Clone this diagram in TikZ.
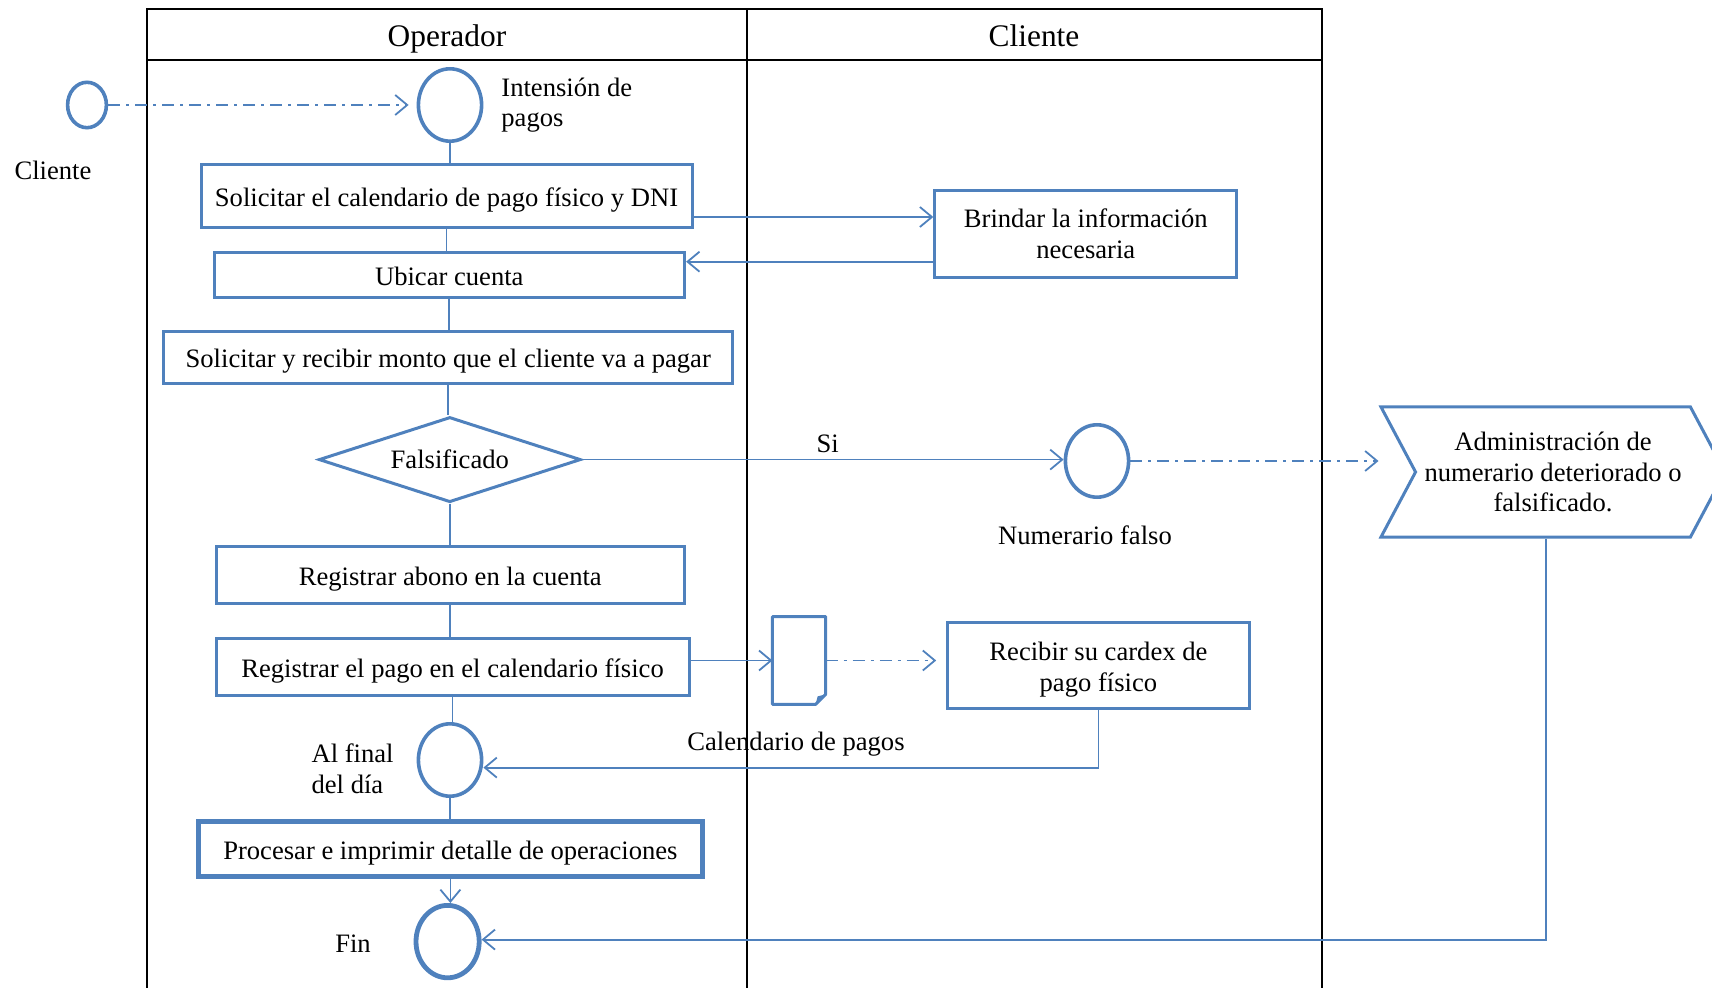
\documentclass[tikz,border=0pt]{standalone}
\usepackage{fontspec}
\setmainfont{Liberation Serif}
\usetikzlibrary{arrows.meta,positioning,shapes.geometric,shapes.symbols}
\definecolor{ofblue}{RGB}{79,129,189}

\begin{document}
\begin{tikzpicture}[x=0.5pt,y=-0.5pt,
  txt/.style={font=\fontsize{13.3}{15.3}\selectfont, inner sep=0pt},
  act/.style={draw=ofblue, line width=1.5pt, fill=white, align=center, font=\fontsize{13.3}{15.3}\selectfont, inner sep=1pt},
  oneline/.style={text height=13.4pt, text depth=3.3pt},
  evt/.style={ellipse, draw=ofblue, line width=1.8pt, minimum width=31.6pt, minimum height=36.2pt, inner sep=0pt},
  link/.style={ofblue, line width=0.9pt},
  flow/.style={link, -{Straight Barb[length=6pt,width=10pt]}},
  msg/.style={flow, dash pattern=on 6pt off 3pt on 1.5pt off 3pt}]
\useasboundingbox (0,0) rectangle (1712,988);
% Swimlanes
\draw[black, line width=1.2pt] (147,988) -- (147,9) -- (1322,9) -- (1322,988);
\draw[black, line width=1.2pt] (147,60) -- (1322,60);
\draw[black, line width=1.2pt] (747,9) -- (747,988);
\node[font=\fontsize{15.7}{18}\selectfont, anchor=base] (lop) at (447,46.5) {Operador};
\node[font=\fontsize{15.7}{18}\selectfont, anchor=base] (lcl) at (1034,46.5) {Cliente};
% Outside actor
\node[evt, minimum width=19.4pt, minimum height=22.7pt] (cli) at (87,105) {};
\node[txt] (lcli) at (53,170) {Cliente};
% Operador lane
\node[evt] (ini) at (450,105) {};
\node[txt, anchor=west, align=left] (lini) at (501,105) {Intensión de\\pagos};
\node[act, oneline, minimum width=245.5pt, minimum height=31.5pt] (sol) at (446.5,196.5) {Solicitar el calendario de pago físico y DNI};
\node[act, oneline, minimum width=235.3pt, minimum height=22.9pt] (ubi) at (449.3,275) {Ubicar cuenta};
\node[act, oneline, minimum width=284.4pt, minimum height=25.6pt] (mon) at (448.2,357.6) {Solicitar y recibir monto que el cliente va a pagar};
\node[diamond, draw=ofblue, line width=1.5pt, fill=white, aspect=3, inner sep=0pt, minimum width=131pt, minimum height=42.6pt, font=\fontsize{13.3}{15.3}\selectfont] (fal) at (449.8,459.6) {Falsificado};
\node[act, oneline, minimum width=234.3pt, minimum height=28.9pt] (abo) at (450.3,575) {Registrar abono en la cuenta};
\node[act, oneline, minimum width=236.5pt, minimum height=28.4pt] (pag) at (452.5,667) {Registrar el pago en el calendario físico};
\node[evt] (alf) at (450,760) {};
\node[txt, anchor=east, align=left] (lalf) at (394,769) {Al final\\del día};
\node[act, oneline, line width=2.5pt, minimum width=251.7pt, minimum height=27.9pt] (pro) at (450.4,849) {Procesar e imprimir detalle de operaciones};
\node[evt, line width=2.4pt] (fin) at (447.6,941.6) {};
\node[txt] (lfin) at (353,944) {Fin};
% Cliente lane
\node[act, minimum width=151pt, minimum height=43.6pt] (bri) at (1085.8,233.7) {Brindar la información\\necesaria};
\node[evt] (num) at (1097,461) {};
\node[txt] (lnum) at (1085,535) {Numerario falso};
\node[minimum width=26.2pt, minimum height=43.5pt, inner sep=0pt] (doc) at (799,660.5) {};
\draw[ofblue, line width=1.5pt, line join=round] (doc.north west) -- (doc.north east) -- ([yshift=5pt]doc.south east)
  -- ([xshift=-5pt]doc.south east) -- (doc.south west) -- cycle;
\fill[ofblue] ([yshift=5pt]doc.south east) -- ([xshift=-5pt]doc.south east) -- ([xshift=-4pt,yshift=4pt]doc.south east) -- cycle;
\node[txt] (ldoc) at (796,744) {Calendario de pagos};
\node[act, minimum width=150.7pt, minimum height=43.2pt] (rec) at (1098.4,665.5) {\rule{0pt}{13.1pt}Recibir su cardex de\\pago físico};
% Outside process
\node[signal, signal from=west, signal to=east, signal pointer angle=124, draw=ofblue, line width=1.5pt,
  minimum width=172pt, minimum height=65pt, inner sep=0pt, align=center, font=\fontsize{13.3}{15.3}\selectfont] (adm) at (1553,472)
  {Administración de\\numerario deteriorado o\\falsificado.};
% Connectors
\draw[msg, shorten >=4pt] (cli.east) -- (ini.west);
\foreach \a/\b in {ini/sol, sol/ubi, ubi/mon, mon/fal, fal/abo, abo/pag, pag/alf, alf/pro}
  \draw[link] (\a.south) -- (\a.south |- \b.north);
\draw[flow] (pro.south) -- (pro.south |- fin.north);
\draw[flow] ([yshift=-10.25pt]sol.east) -- ([yshift=-10.25pt]sol.east -| bri.west);
\draw[flow] ([yshift=-14pt]bri.west) -- ([yshift=-14pt]bri.west -| ubi.east);
\draw[flow] (fal.east) -- node[txt, text=black, above=3pt, pos=0.51] {Si} (fal.east -| num.west);
\draw[msg] (num.east) -- (num.east -| adm.north west);
\draw[flow] (pag.east |- doc.west) -- (doc.west);
\draw[msg, shorten >=5pt] (doc.east) -- (doc.east -| rec.west);
\draw[flow] (rec.south) |- ([yshift=-3.8pt]alf.east);
\draw[flow] ([xshift=-3.5pt]adm.south) |- ([yshift=1pt]fin.east);
\end{tikzpicture}
\end{document}
